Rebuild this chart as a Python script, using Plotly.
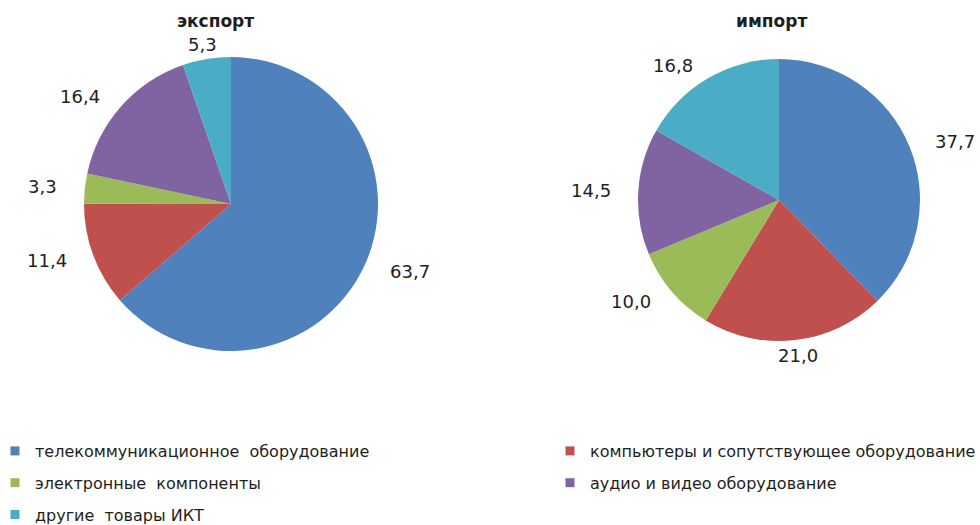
import math
import plotly.graph_objects as go

categories = [
    "телекоммуникационное  оборудование",
    "компьютеры и сопутствующее оборудование",
    "электронные  компоненты",
    "аудио и видео оборудование",
    "другие  товары ИКТ",
]
export_values = [63.7, 11.4, 3.3, 16.4, 5.3]
import_values = [37.7, 21.0, 10.0, 14.5, 16.8]
colors = ["#4F81BD", "#C0504D", "#9BBB59", "#8064A2", "#4BACC6"]
titles = ["экспорт", "импорт"]

W, H = 980, 525
FONT = "DejaVu Sans, Liberation Sans, Arial"
TXT = "#1e1e1e"
# pie geometry in pixels (center x, center y from top, radius)
pies = [(231, 204, 147), (779, 200, 141)]
title_x = [215, 771]

fig = go.Figure()
annotations = []
for vals, (cx, cy, r), title, tx in zip([export_values, import_values], pies,
                                        titles, title_x):
    fig.add_trace(go.Pie(
        labels=categories, values=vals, sort=False, direction="clockwise",
        rotation=0, marker=dict(colors=colors, line=dict(width=0)),
        textinfo="none", textposition="none", hoverinfo="label+value",
        showlegend=False,
        domain=dict(x=[(cx - r) / W, (cx + r) / W],
                    y=[(H - cy - r) / H, (H - cy + r) / H]),
    ))
    total = sum(vals)
    cum = 0
    rx, ry = r * 1.08 + 14, r + 15
    for v in vals:
        mid = (cum + v / 2) / total * 2 * math.pi
        cum += v
        s, c = math.sin(mid), math.cos(mid)
        px = cx + rx * s
        py = cy - ry * c
        xa = "left" if s > 0.2 else ("right" if s < -0.2 else "center")
        annotations.append(dict(
            x=px / W, y=(H - py) / H, xref="paper", yref="paper",
            text=f"{v:.1f}".replace(".", ","), showarrow=False,
            xanchor=xa, yanchor="middle",
            font=dict(family=FONT, size=18, color=TXT),
        ))
    annotations.append(dict(
        x=tx / W, y=(H - 21) / H, xref="paper", yref="paper",
        text=f"<b>{title}</b>",
        showarrow=False, xanchor="center", yanchor="middle",
        font=dict(family=FONT, size=17, color=TXT),
    ))

# legend entries: two columns (left: rows 1-3, right: rows 1-2)
legend_cols = ["legend", "legend2", "legend", "legend2", "legend"]
for i, (cat, col, lg) in enumerate(zip(categories, colors, legend_cols)):
    fig.add_trace(go.Scatter(
        x=[None], y=[None], mode="markers", name=cat, legend=lg,
        legendgroup=f"g{i}",
        marker=dict(symbol="square", size=9, color=col),
        hoverinfo="skip",
    ))

leg_common = dict(
    orientation="v", xanchor="left", yanchor="top",
    y=(H - 434) / H, bgcolor="rgba(0,0,0,0)",
    font=dict(family=FONT, size=16, color=TXT), itemwidth=30,
    traceorder="grouped", tracegroupgap=8,
    itemclick=False, itemdoubleclick=False,
)

fig.update_layout(
    width=W, height=H,
    margin=dict(l=0, r=0, t=0, b=0, autoexpand=False),
    paper_bgcolor="white", plot_bgcolor="white",
    annotations=annotations,
    showlegend=True,
    xaxis=dict(visible=False), yaxis=dict(visible=False),
    legend=dict(x=-5 / W, **leg_common),
    legend2=dict(x=550 / W, **leg_common),
)

fig.write_html("out.html", config={"displayModeBar": False},
               post_script="document.body.style.margin='0px';")
